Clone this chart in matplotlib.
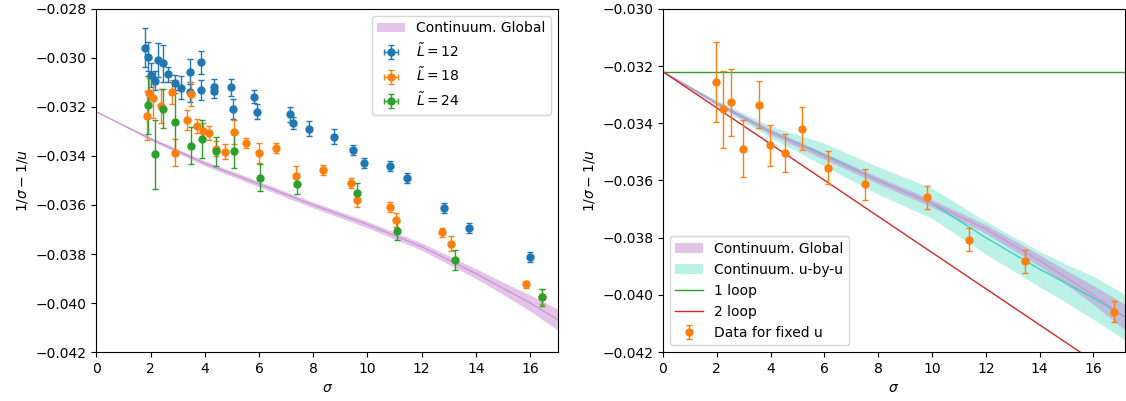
import matplotlib
matplotlib.use("Agg")
import matplotlib.pyplot as plt
import numpy as np

# step scaling function at three lattice sizes
sig_12 = [1.80, 1.92, 2.02, 2.16, 2.29, 2.47, 2.66, 2.90, 3.12, 3.45, 3.45, 3.85, 3.85, 4.34, 4.34,
          4.95, 5.03, 5.83, 5.91, 7.14, 7.24, 7.84, 8.75, 9.45, 9.88, 10.82, 11.44, 12.83, 13.75, 15.98]
val_12 = [-0.02958, -0.02995, -0.03069, -0.03093, -0.03008, -0.03022, -0.03067, -0.03101, -0.03121,
          -0.03056, -0.03138, -0.03018, -0.03131, -0.03117, -0.03135, -0.03120, -0.03208, -0.03158,
          -0.03219, -0.03230, -0.03267, -0.03289, -0.03321, -0.03376, -0.03430, -0.03440, -0.03489,
          -0.03614, -0.03695, -0.03811]
err_12 = [0.0008, 0.0006, 0.0005, 0.0004, 0.0007, 0.00075, 0.0003, 0.0003, 0.00045, 0.0005, 0.0004,
          0.00047, 0.0004, 0.0003, 0.0003, 0.00035, 0.0004, 0.00025, 0.0003, 0.0003, 0.00025, 0.0003,
          0.0003, 0.0002, 0.0002, 0.0002, 0.0002, 0.0002, 0.0002, 0.0002]

sig_18 = [1.88, 1.93, 2.10, 2.39, 2.78, 2.90, 3.33, 3.48, 3.70, 3.92, 4.15, 4.41, 4.74, 5.08, 5.51,
          6.01, 6.63, 7.35, 8.37, 9.41, 9.62, 10.82, 11.06, 12.73, 13.07, 15.84, 16.42]
val_18 = [-0.03237, -0.03142, -0.03165, -0.03196, -0.03139, -0.03387, -0.03253, -0.03148, -0.03278,
          -0.03297, -0.03307, -0.03371, -0.03383, -0.03303, -0.03348, -0.03389, -0.03369, -0.03482,
          -0.03458, -0.03509, -0.03580, -0.03607, -0.03661, -0.03712, -0.03758, -0.03924, -0.03974]
err_18 = [0.001, 0.0006, 0.0008, 0.0007, 0.0005, 0.00055, 0.0004, 0.0005, 0.0003, 0.0003, 0.0003,
          0.0003, 0.0003, 0.0005, 0.0002, 0.0004, 0.0002, 0.0004, 0.0002, 0.0002, 0.0003, 0.0002,
          0.0003, 0.0002, 0.0003, 0.00015, 0.0003]

sig_24 = [1.92, 2.18, 2.47, 2.90, 3.50, 3.90, 4.41, 5.08, 6.02, 7.39, 9.62, 11.10, 13.22, 16.42]
val_24 = [-0.03192, -0.03393, -0.03208, -0.03263, -0.03359, -0.03331, -0.03381, -0.03380, -0.03489,
          -0.03514, -0.03550, -0.03706, -0.03825, -0.03977]
err_24 = [0.0012, 0.0014, 0.0008, 0.0012, 0.00075, 0.00077, 0.0006, 0.0007, 0.00055, 0.0004, 0.00039,
          0.00037, 0.00042, 0.00035]

# data extrapolated at fixed u
sig_u = [1.98, 2.23, 2.53, 2.97, 3.57, 3.99, 4.52, 5.17, 6.12, 7.52, 9.83, 11.39, 13.44, 16.77]
val_u = [-0.03257, -0.03351, -0.03327, -0.03489, -0.03336, -0.03477, -0.03505, -0.03419, -0.03556,
         -0.03614, -0.03659, -0.03807, -0.03883, -0.04059]
err_u = [0.0014, 0.00134, 0.00118, 0.001, 0.00082, 0.00071, 0.00067, 0.00075, 0.00058, 0.00053,
         0.00041, 0.00041, 0.00041, 0.00036]

# continuum bands
band_sig = [0, 1, 2, 3, 4, 6, 8, 10, 12, 14, 15, 16, 17.2]
glob_mid = [-0.0322, -0.03275, -0.0333, -0.0338, -0.0343, -0.03515, -0.0360, -0.0368, -0.0377,
            -0.0388, -0.0394, -0.0400, -0.0408]
glob_err = [0, 0.00003, 0.00006, 0.00008, 0.0001, 0.00011, 0.00012, 0.00013, 0.00015, 0.0002,
            0.00025, 0.00033, 0.00045]
ubu_mid = [-0.0322, -0.03275, -0.0333, -0.0338, -0.0343, -0.0351, -0.0360, -0.0368, -0.0380,
           -0.0391, -0.0396, -0.0401, -0.0408]
ubu_err = [0, 0.00005, 0.0001, 0.00015, 0.0002, 0.0004, 0.00048, 0.00053, 0.00057, 0.00062,
           0.00067, 0.00075, 0.0008]

# perturbation theory
loop_sig = [0, 17.2]
one_loop = [-0.0322, -0.0322]
two_loop = [-0.0322, -0.04307]

GLOB_FILL = (0.75, 0.5, 0.8, 0.45)
GLOB_LINE = '#cf95d8'
UBU_FILL = (0.25, 0.85, 0.75, 0.35)
UBU_LINE = '#3fd0c0'


def band(ax, mid, err, fill, line, label):
    mid = np.array(mid)
    err = np.array(err)
    ax.fill_between(band_sig, mid - err, mid + err, color=fill, lw=0, label=label)
    ax.plot(band_sig, mid, color=line, lw=1)


def points(ax, x, y, e, color, label, xerr=None):
    eb = ax.errorbar(x, y, yerr=e, xerr=xerr, fmt='o', color=color, ms=5, capsize=2.5,
                     elinewidth=1, capthick=1, label=label)
    eb[0].set_zorder(3)


fig, (ax1, ax2) = plt.subplots(1, 2, figsize=(11.26, 4.01), dpi=100)
fig.subplots_adjust(left=0.0855, right=0.999, bottom=0.122, top=0.978, wspace=0.227)

band(ax1, glob_mid, glob_err, GLOB_FILL, GLOB_LINE, 'Continuum. Global')
points(ax1, sig_12, val_12, err_12, 'tab:blue', r'$\tilde{L} = 12$', xerr=0)
points(ax1, sig_18, val_18, err_18, 'tab:orange', r'$\tilde{L} = 18$', xerr=0)
points(ax1, sig_24, val_24, err_24, 'tab:green', r'$\tilde{L} = 24$', xerr=0)
ax1.set_xlim(0, 17.03)
ax1.set_ylim(-0.042, -0.028)
ax1.set_xticks(np.arange(0, 17, 2))
ax1.set_yticks(np.arange(-0.042, -0.0279, 0.002))
ax1.set_xlabel(r'$\sigma$')
ax1.set_ylabel(r'$1/\sigma - 1/u$')
ax1.legend(loc='upper right')

band(ax2, ubu_mid, ubu_err, UBU_FILL, UBU_LINE, 'Continuum. u-by-u')
band(ax2, glob_mid, glob_err, GLOB_FILL, GLOB_LINE, 'Continuum. Global')
ax2.plot(loop_sig, one_loop, color='tab:green', lw=1, label='1 loop')
ax2.plot(loop_sig, two_loop, color='tab:red', lw=1, label='2 loop')
points(ax2, sig_u, val_u, err_u, 'tab:orange', 'Data for fixed u')
ax2.set_xlim(0, 17.17)
ax2.set_ylim(-0.042, -0.030)
ax2.set_xticks(np.arange(0, 17, 2))
ax2.set_yticks(np.arange(-0.042, -0.0299, 0.002))
ax2.set_xlabel(r'$\sigma$')
ax2.set_ylabel(r'$1/\sigma - 1/u$')

# global band listed first in the legend
handles, labels = ax2.get_legend_handles_labels()
order = [labels.index(t) for t in
         ['Continuum. Global', 'Continuum. u-by-u', '1 loop', '2 loop', 'Data for fixed u']]
ax2.legend([handles[i] for i in order], [labels[i] for i in order], loc='lower left')

fig.savefig('out.png', dpi=100)
